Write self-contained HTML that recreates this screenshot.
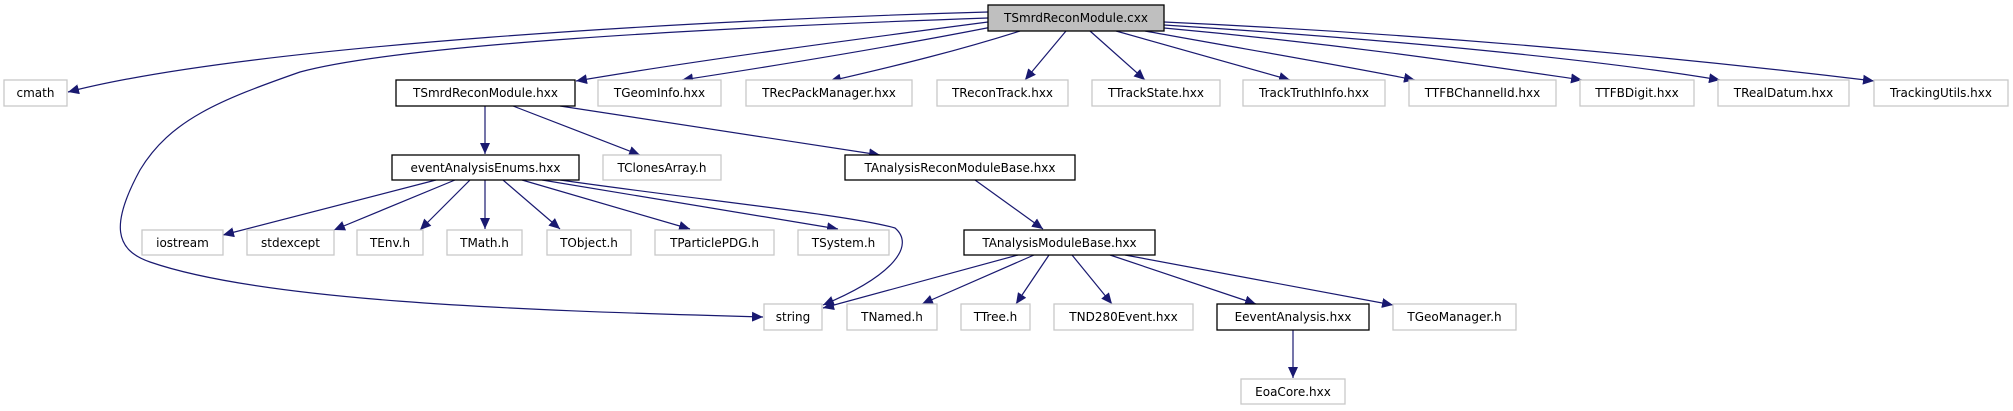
<!DOCTYPE html>
<html><head><meta charset="utf-8"><style>
body{margin:0;background:#fff;width:2013px;height:411px;overflow:hidden}
svg{position:absolute;left:0;top:0}
text{font-family:"DejaVu Sans","Liberation Sans",sans-serif;font-size:12px;fill:#000;text-anchor:middle}
.g{fill:#fff;stroke:#c8c8c8;stroke-width:1.3}
.k{fill:#fff;stroke:#000;stroke-width:1.3}
.e{fill:none;stroke:#191970;stroke-width:1.2}
</style></head><body>
<svg width="2013" height="411" viewBox="0 0 2013 411">
<defs><marker id="a" markerUnits="userSpaceOnUse" markerWidth="12" markerHeight="10" refX="11" refY="5" orient="auto"><path d="M0,0 L11,5 L0,10 z" fill="#191970"/></marker></defs>
<g class="e" marker-end="url(#a)">
<path d="M988,12 C700,20 250,45 68,92"/>
<path d="M988,18 C700,28 400,45 300,72 C220,100 170,120 140,170 C110,225 115,250 150,262 C260,300 500,310 763,317"/>
<path d="M988,22 C850,40 700,60 576,81"/>
<path d="M992,27 C900,45 780,65 682,80"/>
<path d="M1020,31 C960,50 900,65 830,81"/>
<path d="M1066,31 L1025,80"/>
<path d="M1090,31 L1145,80"/>
<path d="M1116,31 L1290,80"/>
<path d="M1145,31 C1250,50 1340,65 1415,80"/>
<path d="M1164,28 C1350,45 1480,65 1582,80"/>
<path d="M1164,25 C1400,40 1600,60 1720,80"/>
<path d="M1164,22 C1450,35 1700,60 1874,81"/>
<path d="M485,106 L485,154"/>
<path d="M513,106 L640,155"/>
<path d="M560,106 L880,155"/>
<path d="M436,180 L223,235"/>
<path d="M455,180 L334,230"/>
<path d="M470,180 L420,230"/>
<path d="M485,180 L485,229"/>
<path d="M503,180 L560,229"/>
<path d="M522,180 L690,229"/>
<path d="M542,180 L838,229"/>
<path d="M560,180 C700,200 850,215 895,228 C915,245 895,275 823,305"/>
<path d="M975,180 L1043,229"/>
<path d="M1018,255 L823,308"/>
<path d="M1034,255 L922,304"/>
<path d="M1049,255 L1016,304"/>
<path d="M1072,255 L1112,304"/>
<path d="M1110,255 L1256,304"/>
<path d="M1125,255 L1393,305"/>
<path d="M1293,330 L1293,378"/>
</g>
<rect x="988" y="5" width="176" height="26" fill="#bfbfbf" stroke="#000" stroke-width="1.3"/><text x="1076" y="22">TSmrdReconModule.cxx</text>
<rect class="g" x="4" y="80" width="63" height="26"/><text x="35.5" y="97">cmath</text>
<rect class="k" x="396" y="80" width="179" height="26"/><text x="485.5" y="97">TSmrdReconModule.hxx</text>
<rect class="g" x="598" y="80" width="123" height="26"/><text x="659.5" y="97">TGeomInfo.hxx</text>
<rect class="g" x="746" y="80" width="166" height="26"/><text x="829" y="97">TRecPackManager.hxx</text>
<rect class="g" x="937" y="80" width="131" height="26"/><text x="1002.5" y="97">TReconTrack.hxx</text>
<rect class="g" x="1092" y="80" width="128" height="26"/><text x="1156" y="97">TTrackState.hxx</text>
<rect class="g" x="1243" y="80" width="142" height="26"/><text x="1314" y="97">TrackTruthInfo.hxx</text>
<rect class="g" x="1409" y="80" width="147" height="26"/><text x="1482.5" y="97">TTFBChannelId.hxx</text>
<rect class="g" x="1580" y="80" width="114" height="26"/><text x="1637" y="97">TTFBDigit.hxx</text>
<rect class="g" x="1718" y="80" width="131" height="26"/><text x="1783.5" y="97">TRealDatum.hxx</text>
<rect class="g" x="1874" y="80" width="134" height="26"/><text x="1941" y="97">TrackingUtils.hxx</text>
<rect class="k" x="392" y="155" width="187" height="25"/><text x="485.5" y="172">eventAnalysisEnums.hxx</text>
<rect class="g" x="603" y="155" width="118" height="25"/><text x="662" y="172">TClonesArray.h</text>
<rect class="k" x="845" y="155" width="230" height="25"/><text x="960" y="172">TAnalysisReconModuleBase.hxx</text>
<rect class="g" x="142" y="230" width="81" height="25"/><text x="182.5" y="247">iostream</text>
<rect class="g" x="247" y="230" width="87" height="25"/><text x="290.5" y="247">stdexcept</text>
<rect class="g" x="357" y="230" width="66" height="25"/><text x="390" y="247">TEnv.h</text>
<rect class="g" x="447" y="230" width="75" height="25"/><text x="484.5" y="247">TMath.h</text>
<rect class="g" x="547" y="230" width="84" height="25"/><text x="589" y="247">TObject.h</text>
<rect class="g" x="655" y="230" width="119" height="25"/><text x="714.5" y="247">TParticlePDG.h</text>
<rect class="g" x="798" y="230" width="91" height="25"/><text x="843.5" y="247">TSystem.h</text>
<rect class="k" x="964" y="230" width="191" height="25"/><text x="1059.5" y="247">TAnalysisModuleBase.hxx</text>
<rect class="g" x="764" y="304" width="58" height="26"/><text x="793" y="321">string</text>
<rect class="g" x="847" y="304" width="90" height="26"/><text x="892" y="321">TNamed.h</text>
<rect class="g" x="961" y="304" width="69" height="26"/><text x="995.5" y="321">TTree.h</text>
<rect class="g" x="1054" y="304" width="139" height="26"/><text x="1123.5" y="321">TND280Event.hxx</text>
<rect class="k" x="1217" y="304" width="152" height="26"/><text x="1293" y="321">EeventAnalysis.hxx</text>
<rect class="g" x="1393" y="304" width="123" height="26"/><text x="1454.5" y="321">TGeoManager.h</text>
<rect class="g" x="1241" y="379" width="104" height="25"/><text x="1293" y="396">EoaCore.hxx</text>
</svg>
</body></html>
